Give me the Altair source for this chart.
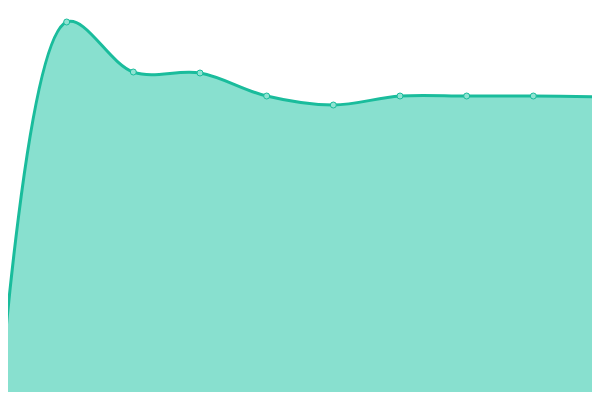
import altair as alt
import pandas as pd

xs = [0, 1, 2, 3, 4, 5, 6, 7, 8, 9]
values = [0, 378, 328, 327, 304, 295, 304, 304, 304, 303]

df = pd.DataFrame({"x": xs, "v": values})

# the page margin is 8px; map the scales so marks sit where the reference draws them
xenc = alt.X("x:Q", axis=None, scale=alt.Scale(domain=[0, 9], nice=False, zero=False, range=[-8, 592]))
yenc = alt.Y("v:Q", axis=None, scale=alt.Scale(domain=[0, 400], nice=False, range=[392, -8]))

base = alt.Chart(df)

area = base.mark_area(interpolate="catmull-rom", color="#88e0cf", opacity=1).encode(x=xenc, y=yenc)
line = base.mark_line(interpolate="catmull-rom", color="#1abc9c", strokeWidth=3).encode(x=xenc, y=yenc)
pts = base.mark_point(filled=True, fill="#8fe3d2", stroke="#1abc9c", strokeWidth=1, size=36, opacity=1).encode(x=xenc, y=yenc)

chart = alt.layer(area, line, pts).properties(
    width=584, height=384,
    padding=0,
    autosize=alt.AutoSizeParams(type="none"),
).configure_view(stroke=None)

chart.save("out.html", embed_options={"renderer": "svg", "actions": False})
